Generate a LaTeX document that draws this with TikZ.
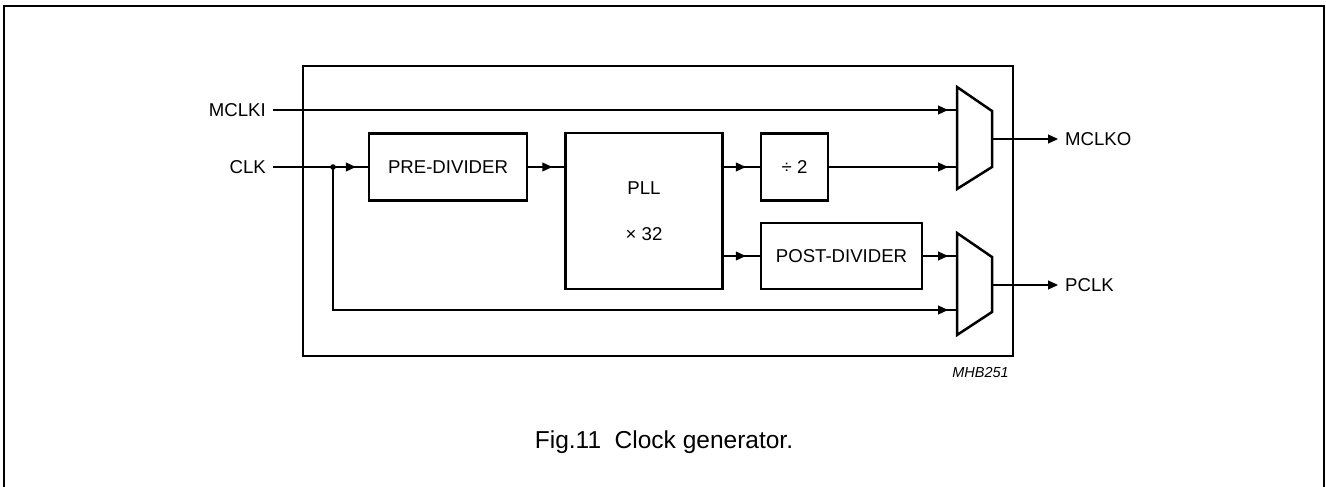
\documentclass[tikz,border=0pt]{standalone}
\usepackage{fontspec}
\setmainfont{Liberation Sans}
\usetikzlibrary{arrows.meta,decorations.markings}

\begin{document}
\begin{tikzpicture}[x=1pt,y=-1pt,
  block/.style={draw,line width=2.5pt,inner sep=0pt,font=\fontsize{18.6}{20}\selectfont},
  lbl/.style={inner sep=7pt,font=\fontsize{18.6}{20}\selectfont},
  mux/.style={draw,line width=2.5pt,line join=miter},
  wire/.style={line width=1.2pt},
  sig/.style={wire,postaction={decorate},
    decoration={markings,mark=at position -#1 with {\arrow{Triangle[length=10pt,width=9pt]}}}},
  sig/.default=12pt]
  \useasboundingbox (0,0) rectangle (1326,487);
  \draw [line width=2pt] (4,487) -- (4,6) -- (1324,6) -- (1324,487);
  \draw [line width=2.6pt] (303,66) rectangle (1013,356);

  \node [block,minimum width=158pt,minimum height=67pt] (pre) at (448,167) {PRE-DIVIDER};
  \node [block,minimum width=157pt,minimum height=156pt,align=center] (pll) at (644,211) {PLL\\[26pt]× 32};
  \node [block,minimum width=67pt,minimum height=67pt] (div) at (794.5,167) {÷ 2};
  \node [block,minimum width=161pt,minimum height=66pt] (post) at (841.5,256) {POST-DIVIDER};

  \draw [mux] (957,87) -- (992,111) -- (992,167) -- (957,189) -- cycle;
  \coordinate (m1a) at (957,110);
  \coordinate (m1b) at (957,167);
  \coordinate (m1o) at (992,139);
  \draw [mux] (957,233) -- (992,257) -- (992,312) -- (957,335) -- cycle;
  \coordinate (m2a) at (957,256);
  \coordinate (m2b) at (957,310);
  \coordinate (m2o) at (992,285);

  \node [lbl,anchor=east] (mclki) at (273,110) {MCLKI};
  \node [lbl,anchor=east] (clk) at (273,167) {CLK};
  \node [lbl,anchor=west] (mclko) at (1058,139) {MCLKO};
  \node [lbl,anchor=west] (pclk) at (1058,285) {PCLK};
  \coordinate (split) at (333,167);

  \draw [sig=9pt] (mclki.east) -- (m1a);
  \draw [wire] (clk.east) -- (split);
  \draw [sig] (split) -- (pre.west);
  \fill (split) circle (2.8pt);
  \draw [sig] (pre.east) -- (pll.west |- pre.east);
  \draw [sig=14pt] (pll.east |- div) -- (div.west);
  \draw [sig=9pt] (div.east) -- (m1b);
  \draw [sig=14pt] (pll.east |- post) -- (post.west);
  \draw [sig=9pt] (post.east) -- (m2a);
  \draw [sig=9pt] (split) |- (m2b);
  \draw [wire,-{Triangle[length=10pt,width=9pt]}] (m1o) -- (mclko.west);
  \draw [wire,-{Triangle[length=10pt,width=9pt]}] (m2o) -- (pclk.west);

  \node [inner sep=0pt,anchor=east,font=\fontsize{14.5}{16}\selectfont\itshape] (code) at (1009,373) {MHB251};
  \node [font=\fontsize{24.5}{28}\selectfont] (caption) at (664,442) {Fig.11\ \ Clock generator.};
\end{tikzpicture}
\end{document}
